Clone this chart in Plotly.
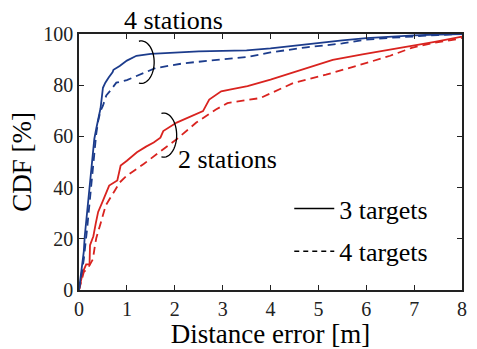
import numpy as np
import plotly.graph_objects as go

# CDF of distance error [m] -> cumulative percentage
st4_t3_x = [0, 0.02, 0.05, 0.08, 0.1, 0.12, 0.15, 0.18, 0.22, 0.25, 0.28, 0.32, 0.36, 0.4, 0.45, 0.5,
            0.55, 0.62, 0.7, 0.72, 0.85, 1.0, 1.1, 1.2, 1.5, 2.0, 2.5, 3.0, 3.5, 4.0, 4.5, 5.0,
            5.5, 6.0, 6.5, 7.0, 7.5, 8.0]
st4_t3_y = [0, 3, 6, 10, 15, 21, 27, 33, 39, 45, 52, 59, 63, 67, 71, 79,
            81, 83, 85, 86, 87.5, 89.6, 90.6, 91.5, 92.2, 92.8, 93.2, 93.4, 93.6, 94.4, 95.5, 96.6,
            97.5, 98.4, 99, 99.5, 99.8, 100]

st4_t4_x = [0, 0.03, 0.06, 0.1, 0.14, 0.17, 0.2, 0.25, 0.28, 0.32, 0.36, 0.4, 0.45, 0.5, 0.57,
            0.66, 0.78, 1.0, 1.25, 1.6, 2.2, 2.5, 3.2, 3.5, 4.0, 4.75, 5.5, 6.0, 6.5, 7.0, 7.5, 8.0]
st4_t4_y = [0, 3, 7, 12, 18, 24, 30, 40, 47, 55, 61, 66, 70, 72, 76,
            78, 81, 82, 84, 86.7, 88.6, 89.2, 90.3, 91, 92.8, 94.8, 96.3, 97.8, 98.5, 99.1, 99.6, 100]

st2_t3_x = [0, 0.03, 0.08, 0.15, 0.22, 0.23, 0.3, 0.35, 0.4, 0.49, 0.55, 0.63, 0.8, 0.87, 1.0, 1.21,
            1.4, 1.56, 1.7, 1.76, 2.04, 2.3, 2.59, 2.72, 2.97, 3.2, 3.52, 4.0, 4.55, 4.75, 5.3,
            5.92, 6.5, 6.95, 7.4, 7.84, 8.0]
st2_t3_y = [0, 3, 7, 10, 10, 17.5, 21, 26, 30.5, 34.4, 37, 40.8, 42.8, 48.6, 50.5, 53.8,
            56, 57.6, 59.5, 62.1, 65.4, 67.5, 69.9, 74.4, 77.6, 78.5, 79.6, 82.2, 85.5, 86.7, 89.9,
            92, 93.8, 95.2, 96.8, 98.4, 99]

st2_t4_x = [0, 0.05, 0.1, 0.2, 0.29, 0.33, 0.36, 0.46, 0.56, 0.73, 0.85, 1.0, 1.35, 1.76, 2.04,
            2.45, 2.86, 3.1, 3.79, 4.48, 5.16, 5.99, 6.5, 6.95, 7.4, 7.84, 8.0]
st2_t4_y = [0, 4, 7, 9, 12, 17, 20.2, 26.6, 33.1, 38.3, 42, 44.7, 49.2, 55, 58.9,
            65.4, 70.5, 73, 75, 80.9, 84.1, 88.6, 91.5, 94.6, 96.5, 97.8, 98.5]

BLUE = "#1c3c8c"
RED = "#d9231f"
FONT = "Liberation Serif, Times New Roman, serif"

fig = go.Figure()

def cdf(x, y, color, dash):
    fig.add_trace(go.Scatter(x=x, y=y, mode="lines",
                             line=dict(color=color, width=1.8, dash=dash),
                             showlegend=False, hoverinfo="skip"))

cdf(st2_t4_x, st2_t4_y, RED, "8px,5px")
cdf(st2_t3_x, st2_t3_y, RED, "solid")
cdf(st4_t4_x, st4_t4_y, BLUE, "8px,5px")
cdf(st4_t3_x, st4_t3_y, BLUE, "solid")

# legend entries (line style only)
fig.add_trace(go.Scatter(x=[None], y=[None], mode="lines", name="3 targets",
                         line=dict(color="black", width=1.5), legendgroup="a"))
fig.add_trace(go.Scatter(x=[None], y=[None], mode="lines", name="4 targets",
                         line=dict(color="black", width=1.5, dash="5px,4px"), legendgroup="b"))

# bracket arcs grouping the curves
def arc_path(cx, cy, rx, ry, t0, t1, n=30):
    t = np.linspace(t0, t1, n)
    xs = cx + rx * np.cos(t)
    ys = cy + ry * np.sin(t)
    return "M " + " L ".join(f"{a:.4f},{b:.4f}" for a, b in zip(xs, ys))

fig.add_shape(type="path", path=arc_path(1.30, 89.0, 0.27, 8.3, 1.75, -1.75),
              line=dict(color="black", width=1.3), xref="x", yref="y")
fig.add_shape(type="path", path=arc_path(1.77, 60.5, 0.27, 8.6, 1.75, -1.75),
              line=dict(color="black", width=1.3), xref="x", yref="y")

fig.add_annotation(text="4 stations", x=(175 - 79) / 388, y=(292 - 20) / 258,
                   xref="paper", yref="paper", showarrow=False,
                   xanchor="center", yanchor="middle",
                   font=dict(family=FONT, size=26, color="black"))
fig.add_annotation(text="2 stations", x=(177 - 79) / 388, y=(292 - 160) / 258,
                   xref="paper", yref="paper", showarrow=False,
                   xanchor="left", yanchor="middle",
                   font=dict(family=FONT, size=26, color="black"))

axis_common = dict(showline=True, linecolor="#222", linewidth=1.5, mirror="ticks",
                   ticks="inside", ticklen=5, tickcolor="#222", showgrid=False,
                   zeroline=False, tickfont=dict(family=FONT, size=20, color="#222"))

fig.update_xaxes(range=[0, 8], dtick=1, title=dict(text="Distance error [m]",
                 font=dict(family=FONT, size=27, color="black"), standoff=0), **axis_common)
fig.update_yaxes(range=[0, 100], dtick=20, title=dict(text="CDF [%]",
                 font=dict(family=FONT, size=27, color="black"), standoff=4), **axis_common)

fig.update_layout(
    width=477, height=349,
    margin=dict(l=79, r=10, t=34, b=57),
    paper_bgcolor="white", plot_bgcolor="white",
    legend=dict(x=(292 - 79) / 388, y=0.41, xanchor="left", yanchor="top",
                bgcolor="rgba(0,0,0,0)",
                font=dict(family=FONT, size=26, color="black"), tracegroupgap=6,
                itemwidth=40),
)

fig.write_html("out.html")
